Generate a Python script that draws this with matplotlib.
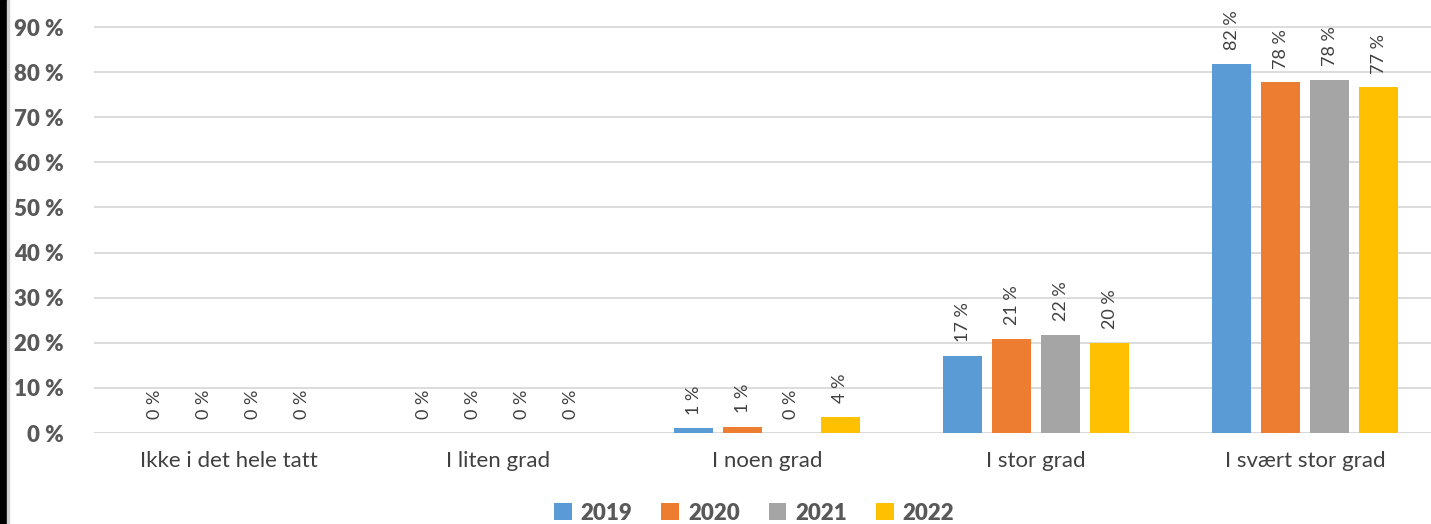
import numpy as np
import matplotlib.pyplot as plt
from matplotlib.patches import Rectangle

plt.rcParams['font.family'] = ['Lato', 'DejaVu Sans']

categories = ["Ikke i det hele tatt", "I liten grad", "I noen grad", "I stor grad", "I svært stor grad"]
years = ["2019", "2020", "2021", "2022"]
v2019 = [0, 0, 1.0, 17.1, 81.8]
v2020 = [0, 0, 1.3, 20.8, 77.7]
v2021 = [0, 0, 0, 21.7, 78.2]
v2022 = [0, 0, 3.6, 19.9, 76.6]
colors = ["#5b9bd5", "#ed7d31", "#a5a5a5", "#ffc000"]

series = [v2019, v2020, v2021, v2022]

fig = plt.figure(figsize=(14.31, 5.24), dpi=100)
ax = fig.add_axes([94 / 1431, 1 - 433 / 524, 1346 / 1431, 406 / 524 * 100 / 90])

x = np.arange(len(categories))
width = 0.145
step = 0.182
for i, (vals, col, yr) in enumerate(zip(series, colors, years)):
    pos = x + (i - 1.5) * step
    ax.bar(pos, vals, width=width, color=col, label=yr, zorder=3)
    for p, v in zip(pos, vals):
        ax.annotate(f"{round(v)} %", (p, v), xytext=(0, 10), textcoords="offset points",
                    rotation=90, ha="center", va="bottom", fontsize=13, color="#404040")

ax.set_xlim(-0.5, 4.5)
ax.set_ylim(0, 100)
ax.set_yticks(np.arange(0, 91, 10))
ax.set_yticklabels([f"{t} %" for t in range(0, 91, 10)], fontsize=16, fontweight="heavy", color="#595959")
ax.set_xticks(x)
ax.set_xticklabels(categories, fontsize=16, color="#404040")
ax.tick_params(axis="both", length=0)
ax.tick_params(axis="x", pad=13)
ax.tick_params(axis="y", pad=22)
ax.grid(axis="y", color="#d9d9d9", linewidth=1.3, zorder=0)
ax.set_axisbelow(True)
for s in ax.spines.values():
    s.set_visible(False)
ax.axhline(0, color="#d9d9d9", linewidth=1.3, zorder=1)

leg = fig.legend(loc="center", bbox_to_anchor=(0.527, 1 - 513 / 524), ncol=4, frameon=False,
                 handlelength=0.8, handleheight=0.8, handletextpad=0.4, columnspacing=1.3,
                 prop={"size": 16, "weight": "heavy"})
for t in leg.get_texts():
    t.set_color("#595959")

# left border like the original screenshot
fig.patches.append(Rectangle((0, 0), 7 / 1431, 1, transform=fig.transFigure, color="black"))
fig.patches.append(Rectangle((7 / 1431, 0), 2 / 1431, 1, transform=fig.transFigure, color="#d0d0d0"))

fig.savefig("out.png", dpi=100)
